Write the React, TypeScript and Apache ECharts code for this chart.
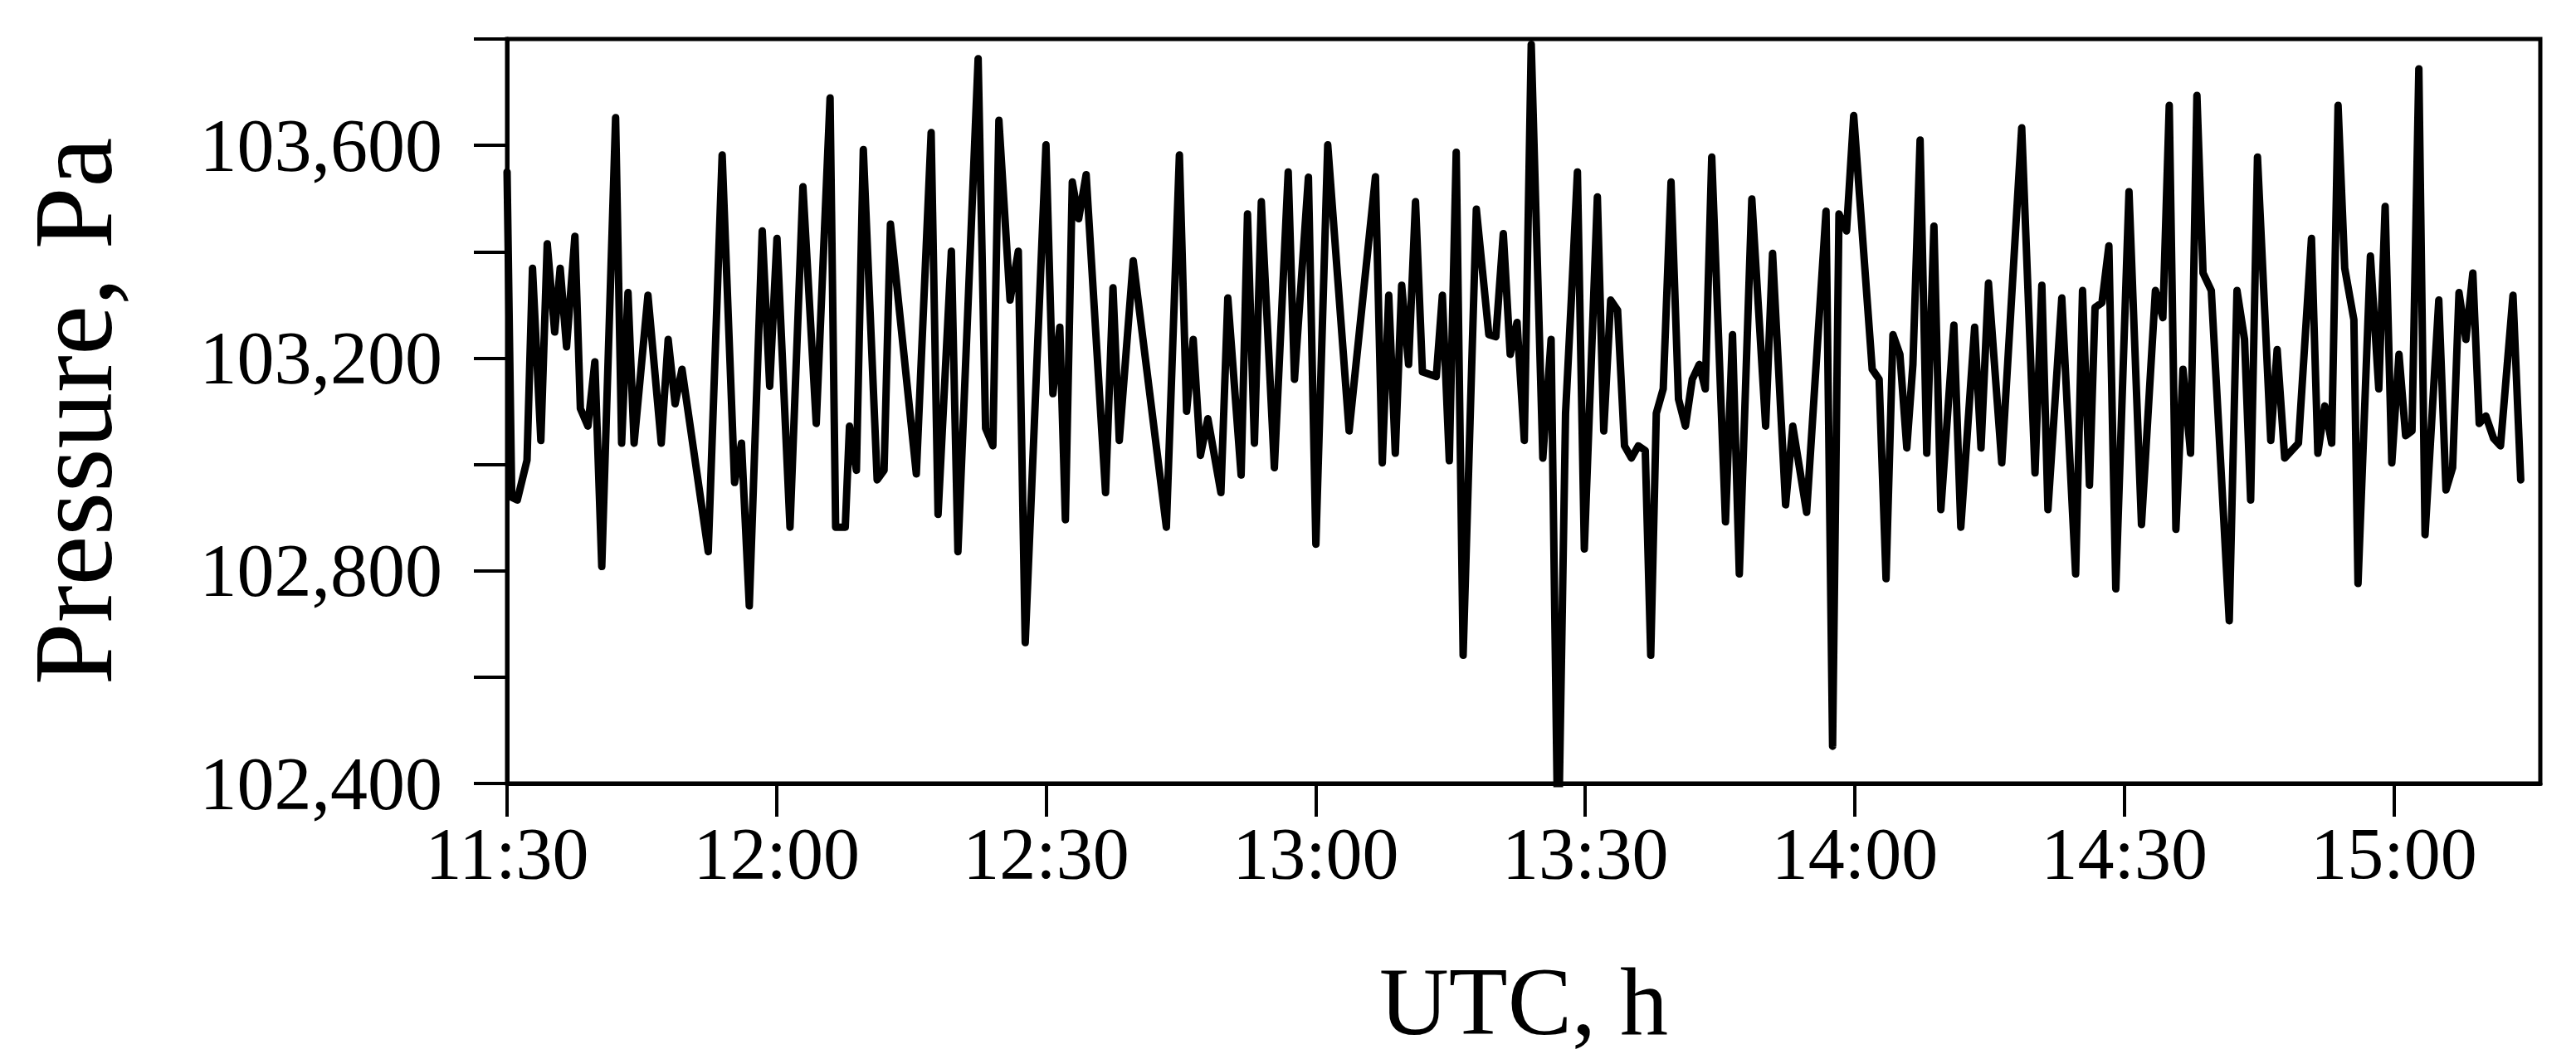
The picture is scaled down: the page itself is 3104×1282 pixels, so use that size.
import React, { useEffect, useRef } from "react";
import * as echarts from "echarts";

// minutes after 11:30 UTC
const timeMin = [
  0.0, 0.52, 1.14, 2.22, 2.83, 3.76, 4.47, 5.3, 5.91, 6.62, 7.55, 8.16, 9.0, 9.77, 10.54, 12.08, 12.75, 13.46, 14.14, 15.68,
  17.16, 17.93, 18.7, 19.47, 22.39, 23.94, 25.32, 26.09, 26.96, 28.4, 29.23, 30.04, 31.49, 32.93, 34.41, 35.95, 36.57, 37.64, 38.11, 38.88,
  39.65, 41.19, 41.96, 42.67, 45.55, 47.2, 47.97, 49.45, 50.18, 52.43, 53.26, 54.07, 54.74, 55.98, 56.9, 57.67, 59.98, 60.75, 61.52, 62.14,
  62.91, 63.62, 64.45, 66.61, 67.44, 68.14, 69.69, 73.38, 74.83, 75.63, 76.37, 77.17, 78.0, 79.45, 80.22, 81.7, 82.41, 83.18, 83.95, 85.4,
  86.94, 87.64, 89.19, 90.02, 91.34, 93.72, 96.65, 97.41, 98.13, 98.86, 99.57, 100.34, 101.11, 101.88, 103.42, 104.1, 104.87, 105.64, 106.41, 107.88,
  109.27, 110.05, 110.88, 111.65, 112.41, 113.22, 113.99, 115.28, 116.2, 116.98, 117.81, 118.45, 119.13, 119.9, 121.35, 122.06, 122.83, 123.6, 124.37, 125.14,
  125.91, 126.68, 127.29, 127.91, 128.68, 129.55, 130.38, 131.15, 131.91, 132.69, 133.36, 134.08, 135.61, 136.39, 137.15, 138.54, 140.08, 140.85, 142.3, 143.1,
  144.64, 146.8, 147.53, 148.24, 149.08, 149.88, 151.94, 152.71, 153.48, 154.25, 155.02, 155.79, 156.47, 157.27, 158.01, 158.81, 159.58, 161.03, 161.8, 163.34,
  164.05, 164.88, 166.36, 168.58, 170.06, 170.82, 171.5, 173.04, 174.58, 175.35, 176.12, 176.74, 177.51, 178.28, 179.05, 180.52, 181.91, 183.46, 184.29, 185.0,
  185.74, 186.53, 187.37, 188.08, 188.76, 189.68, 191.68, 192.54, 193.38, 194.06, 194.82, 196.3, 197.01, 197.85, 199.38, 200.83, 201.54, 202.31, 203.08, 203.79,
  204.53, 205.55, 206.01, 207.39, 208.32, 209.03, 209.77, 210.57, 211.31, 212.02, 212.78, 213.47, 215.0, 215.8, 216.54, 217.25, 218.02, 218.79, 219.5, 220.24,
  221.1, 221.87, 223.26, 224.12,
];

// pressure, Pa
const pressurePa = [
  103550, 102938, 102933, 103008, 103369, 103045, 103415, 103249, 103369, 103221, 103429, 103105, 103072, 103193, 102808, 103652, 103040, 103323, 103040, 103318,
  103040, 103235, 103114, 103179, 102836, 103582, 102966, 103040, 102734, 103439, 103147, 103425, 102882, 103522, 103077, 103689, 102882, 102882, 103072, 102989,
  103592, 102971, 102989, 103452, 102982, 103624, 102906, 103401, 102836, 103763, 103068, 103035, 103647, 103309, 103401, 102665, 103601, 103133, 103258, 102896,
  103531, 103462, 103545, 102947, 103332, 103045, 103383, 102882, 103582, 103100, 103235, 103017, 103086, 102947, 103313, 102980, 103471, 103040, 103494, 102994,
  103550, 103160, 103540, 102850, 103601, 103063, 103541, 103003, 103318, 103021, 103337, 103188, 103494, 103174, 103165, 103318, 103007, 103587, 102641, 103480,
  103244, 103240, 103434, 103207, 103267, 103045, 103790, 103012, 103235, 102250, 103096, 103309, 103550, 102841, 103503, 103063, 103309, 103290, 103035, 103012,
  103035, 103026, 102641, 103096, 103142, 103531, 103123, 103072, 103160, 103188, 103142, 103578, 102892, 103244, 102794, 103499, 103072, 103397, 102924, 103072,
  102910, 103476, 102470, 103471, 103439, 103656, 103179, 103160, 102785, 103244, 103207, 103031, 103188, 103610, 103021, 103448, 102915, 103262, 102882, 103258,
  103031, 103341, 103003, 103633, 102984, 103337, 102915, 103313, 102794, 103327, 102961, 103295, 103304, 103411, 102766, 103513, 102887, 103327, 103276, 103675,
  102878, 103179, 103021, 103694, 103360, 103327, 102706, 103327, 103235, 102933, 103578, 103045, 103216, 103012, 103040, 103425, 103021, 103110, 103040, 103675,
  103369, 103272, 102776, 103392, 103142, 103485, 103003, 103207, 103054, 103063, 103744, 102868, 103309, 102952, 102994, 103323, 103235, 103360, 103077, 103091,
  103049, 103035, 103318, 102971,
];

const startMinuteOfDay = 690; // 11:30
const endMinuteOfDay = 916.3;
const xTickMinutes = [690, 720, 750, 780, 810, 840, 870, 900];
const yMin = 102400;
const yMax = 103800;

const FONT = "'Liberation Serif', 'Times New Roman', serif";

function fmtTime(v: number): string {
  const h = Math.floor(v / 60);
  const m = Math.round(v - h * 60);
  return `${h}:${m < 10 ? "0" + m : m}`;
}

export default function App() {
  const ref = useRef<HTMLDivElement>(null);

  useEffect(() => {
    if (!ref.current) return;
    const chart = echarts.init(ref.current, null, { renderer: "svg" });
    const data = timeMin.map((t, i) => [startMinuteOfDay + t, pressurePa[i]]);
    chart.setOption({
      animation: false,
      backgroundColor: "#ffffff",
      grid: {
        left: 611,
        right: 43,
        top: 47,
        bottom: 338,
        show: true,
        borderColor: "#000",
        borderWidth: 5,
        backgroundColor: "transparent",
      },
      xAxis: {
        type: "value",
        min: startMinuteOfDay,
        max: endMinuteOfDay,
        interval: 30,
        axisLine: { show: true, lineStyle: { color: "#000", width: 5 } },
        axisTick: {
          show: true,
          length: 40,
          lineStyle: { color: "#000", width: 4 },
          customValues: xTickMinutes,
        },
        axisLabel: {
          color: "#000",
          fontFamily: FONT,
          fontSize: 88,
          margin: 40,
          customValues: xTickMinutes,
          formatter: (v: number) => fmtTime(v),
        },
        splitLine: { show: false },
        name: "UTC, h",
        nameLocation: "middle",
        nameGap: 205,
        nameTextStyle: { color: "#000", fontFamily: FONT, fontSize: 116 },
      },
      yAxis: {
        type: "value",
        min: yMin,
        max: yMax,
        interval: 200,
        axisLine: { show: true, lineStyle: { color: "#000", width: 5 } },
        axisTick: { show: true, length: 40, lineStyle: { color: "#000", width: 4 } },
        axisLabel: {
          color: "#000",
          fontFamily: FONT,
          fontSize: 90,
          margin: 78,
          formatter: (v: number) =>
            (v - yMin) % 400 === 0 ? v.toLocaleString("en-US") : "",
        },
        splitLine: { show: false },
        name: "Pressure, Pa",
        nameLocation: "middle",
        nameRotate: 90,
        nameGap: 455,
        nameTextStyle: { color: "#000", fontFamily: FONT, fontSize: 135 },
      },
      series: [
        {
          type: "line",
          data,
          showSymbol: false,
          symbol: "none",
          clip: true,
          lineStyle: { color: "#000", width: 9, join: "round", cap: "round" },
        },
      ],
    });
    return () => chart.dispose();
  }, []);

  return (
    <div
      ref={ref}
      style={{ position: "absolute", left: 0, top: 0, width: 3104, height: 1282 }}
    />
  );
}
